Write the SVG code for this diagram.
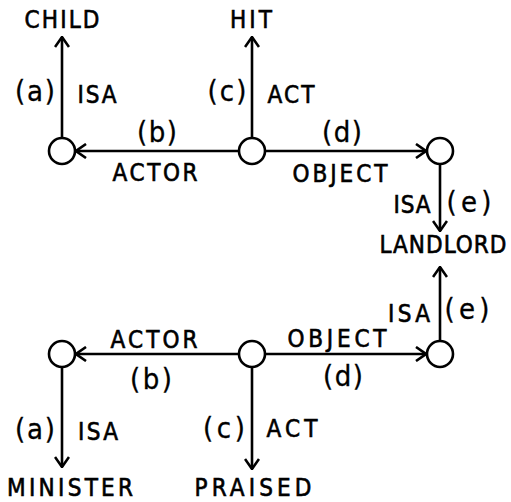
<svg xmlns="http://www.w3.org/2000/svg" width="511" height="502" viewBox="0 0 511 502">
  <style>
    .node circle { fill: #fff; stroke: #000; stroke-width: 2.6; }
    .edge { stroke: #000; stroke-width: 2.6; fill: none; marker-end: url(#arrow); }
    text { font-family: "Liberation Sans Narrow", "DejaVu Sans Condensed", "Liberation Sans", Arial, sans-serif; font-stretch: condensed; fill: #000; text-anchor: middle; stroke: #000; stroke-width: 0.6; }
    .word { font-size: 24px; }
    .tag { font-size: 29px; stroke-width: 0.3; }
  </style>
  <defs>
    <marker id="arrow" viewBox="0 0 12 16" refX="11" refY="8" markerWidth="12" markerHeight="16" markerUnits="userSpaceOnUse" orient="auto">
      <path d="M1,1 L11,8 L1,15" fill="none" stroke="#000" stroke-width="2.6"/>
    </marker>
  </defs>
  <rect width="511" height="502" fill="#fff"/>

  <!-- connectors -->
  <g id="connectors">
    <line class="edge" x1="62" y1="138" x2="62" y2="37"/>
    <line class="edge" x1="252" y1="138" x2="252" y2="37"/>
    <line class="edge" x1="239" y1="151" x2="76" y2="151"/>
    <line class="edge" x1="265" y1="151" x2="426" y2="151"/>
    <line class="edge" x1="440" y1="164" x2="440" y2="231"/>
    <line class="edge" x1="440" y1="341" x2="440" y2="267"/>
    <line class="edge" x1="239" y1="354" x2="76" y2="354"/>
    <line class="edge" x1="265" y1="354" x2="426" y2="354"/>
    <line class="edge" x1="62" y1="367" x2="62" y2="467"/>
    <line class="edge" x1="252" y1="367" x2="252" y2="469"/>

    <!-- edge labels -->
    <text class="tag" x="35" y="101" textLength="40">(a)</text>
    <text class="word" x="97" y="103" textLength="39">ISA</text>
    <text class="tag" x="227" y="101" textLength="39">(c)</text>
    <text class="word" x="291" y="103" textLength="47">ACT</text>
    <text class="tag" x="157" y="142" textLength="40">(b)</text>
    <text class="word" x="155" y="181" textLength="85">ACTOR</text>
    <text class="tag" x="342" y="142" textLength="40">(d)</text>
    <text class="word" x="340" y="182" textLength="95">OBJECT</text>
    <text class="word" x="412" y="213" textLength="37">ISA</text>
    <text class="tag" x="469" y="212" textLength="45">(e)</text>

    <text class="word" x="409" y="322" textLength="42">ISA</text>
    <text class="tag" x="467" y="319" textLength="45">(e)</text>
    <text class="word" x="154" y="348" textLength="87">ACTOR</text>
    <text class="word" x="337" y="347" textLength="99">OBJECT</text>
    <text class="tag" x="151" y="389" textLength="42">(b)</text>
    <text class="tag" x="343" y="386" textLength="40">(d)</text>
    <text class="tag" x="35" y="439" textLength="40">(a)</text>
    <text class="word" x="98" y="440" textLength="40">ISA</text>
    <text class="tag" x="224" y="438" textLength="42">(c)</text>
    <text class="word" x="292" y="437" textLength="51">ACT</text>
  </g>

  <!-- nodes -->
  <g id="child"><text class="word" x="62" y="28" textLength="75">CHILD</text></g>
  <g id="hit"><text class="word" x="251" y="28" textLength="42">HIT</text></g>
  <g id="landlord"><text class="word" x="443" y="253" textLength="127">LANDLORD</text></g>
  <g id="minister"><text class="word" x="70" y="496" textLength="126">MINISTER</text></g>
  <g id="praised"><text class="word" x="253" y="496" textLength="117">PRAISED</text></g>

  <g id="n-top-actor" class="node"><circle cx="62" cy="151" r="13"/></g>
  <g id="n-top-event" class="node"><circle cx="252" cy="151" r="13"/></g>
  <g id="n-top-object" class="node"><circle cx="440" cy="151" r="13"/></g>
  <g id="n-bot-actor" class="node"><circle cx="62" cy="354" r="13"/></g>
  <g id="n-bot-event" class="node"><circle cx="252" cy="354" r="13"/></g>
  <g id="n-bot-object" class="node"><circle cx="440" cy="354" r="13"/></g>
</svg>
